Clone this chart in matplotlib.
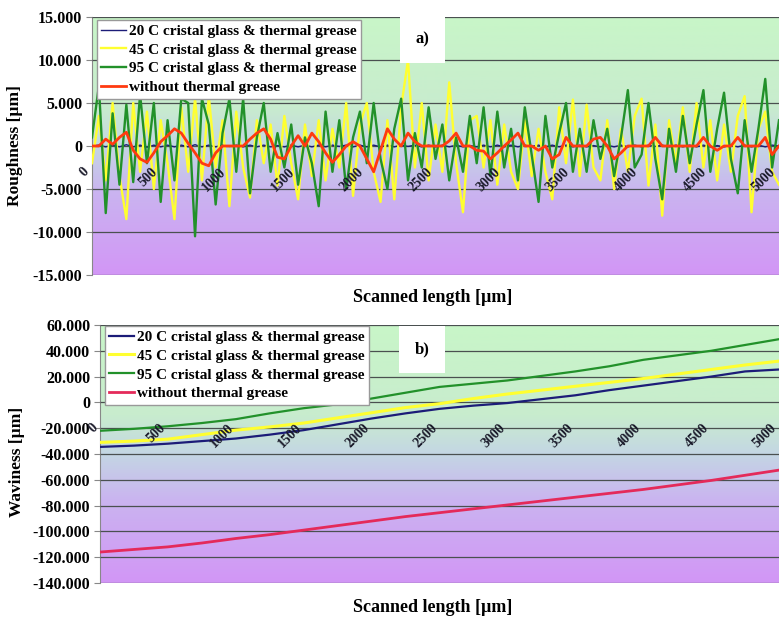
import numpy as np
import matplotlib
matplotlib.use('Agg')
import matplotlib.pyplot as plt

plt.rcParams['font.family'] = ['Liberation Serif', 'DejaVu Serif']
plt.rcParams['font.weight'] = 'bold'

# 데이터 (그림에서 읽은 추정값)
labels = ['20 C cristal glass & thermal grease',
          '45 C cristal glass & thermal grease',
          '95 C cristal glass & thermal grease',
          'without thermal grease']

# a) roughness, 50 um step
x_rough = np.arange(0, 5001, 50)
rough_20 = [0, 100, -100, 100, -100, 150, -100, 100, -150, 100,
            -100, 100, -100, 100, -100, 150, -100, 100, -100, 100,
            -50, 100, -100, 100, -100, 100, -100, 50, -100, 100,
            -100, 100, -100, 100, -100, 100, -50, 100, -100, 100,
            -100, 100, -100, 100, -100, 100, -50, 100, -100, 100,
            -100, 100, -100, 100, -100, 50, -100, 100, -100, 100,
            -100, 100, -100, 100, -50, 100, -100, 100, -100, 100,
            -100, 100, -100, 50, -100, 100, -100, 100, -100, 100,
            -100, 100, -50, 100, -100, 100, -100, 100, -100, 100,
            -100, 50, -100, 100, -100, 100, -100, 100, -100, 100, 0]
rough_45 = [-2000, 3500, -4000, 5000, -3500, -8500, 5000, -3000, 4000, -5000,
            3000, -2000, -8500, 4500, -3000, 5500, -4000, 5800, -2500, 3000,
            -7000, 4000, -2500, -6000, 3000, -2000, 2500, -4600, 3500, -2000,
            -6200, 2500, -3500, 3000, -4000, 2000, -2500, 5000, -5800, 2500,
            5000, -3000, -6500, 3000, -6200, 4500, 10000, -2500, 5000, -4000,
            2500, -3000, 7400, -2000, -7700, 3000, 3500, -2500, 3000, -4500,
            2500, -3000, -5000, 3000, -3500, 2000, -3000, -6200, 4500, -2000,
            5400, -3500, 4800, -2500, -4000, 3000, -5000, 2000, -3000, 3500,
            5500, -4600, 2500, -8100, 3000, -2000, 4500, -3000, 5000, -2500,
            3000, -4000, 2500, -3000, 3500, 5800, -7700, 2000, 4000, -3000, -4500]
rough_95 = [1000, 7000, -7800, 3800, -4500, 4800, -4200, 6000, -2000, 5000,
            -6500, 3000, -4000, 5500, 5000, -10500, 5500, 2500, -6800, 1500,
            5500, -3000, 5500, -5500, 1000, 5000, -3000, 1500, -2500, 2500,
            -4500, 1000, -2000, -7000, 4000, -3000, 3000, -5000, 1000, 4000,
            -2000, 5000, -1500, -5000, 2000, 5500, -4000, 1500, -2500, 4500,
            -1500, 2500, -4000, 1000, -3000, 3500, -2000, 4500, -3500, 4000,
            -2500, 2000, -4000, 4500, -1000, -6500, 3500, -2500, 1500, 5000,
            -3000, 2000, -3000, 3000, -1500, 2000, -3500, 1000, 6500, -2500,
            -1000, 5000, -1500, -6200, 2000, -3000, 3500, -2000, 2500, 6500,
            -3000, 2000, 6200, -1500, -5500, 3000, -3000, 2000, 7800, -2500, 3000]
rough_none = [0, 0, 800, 200, 1000, 1600, -500, -1500, -1900, -800,
              500, 1200, 2000, 1500, 300, -800, -2000, -2300, -800, 0,
              0, 0, 0, 800, 1500, 2000, 800, -1300, -1500, 0,
              1200, 0, 1500, 500, -800, -1900, -1000, 0, 500, 0,
              -1500, -3000, -500, 2000, 800, 0, 1500, 500, 0, 0,
              0, 0, 600, 1500, 0, 0, -500, -600, -1500, -800,
              0, 700, 1500, 0, 0, -500, 0, -1500, -1000, 1000,
              0, 0, 0, 800, 1000, 0, -1500, -800, 0, 0,
              0, 0, 1000, 0, 0, 0, 0, 0, 0, 1000,
              0, -500, 0, 0, 1000, 0, 0, 0, 1000, -1000, 0]

# b) waviness, 250 um step
x_wavy = np.arange(0, 5001, 250)
wavy_20 = [-34500, -33500, -32000, -30000, -28000, -25000, -21500, -17000, -12500, -8500,
           -5000, -2500, -500, 2500, 5500, 9500, 13000, 16500, 20000, 24000, 25500]
wavy_45 = [-31000, -30000, -28500, -25000, -21500, -19000, -16000, -12000, -8000, -4000,
           -1000, 3000, 6500, 9500, 12500, 15500, 18500, 22000, 25500, 29000, 32000]
wavy_95 = [-22000, -20500, -18500, -16000, -13000, -8500, -4500, -1500, 3000, 7500,
           12000, 14500, 17000, 20500, 24000, 28000, 33000, 36500, 40000, 44500, 49000]
wavy_none = [-116000, -114000, -112000, -109000, -105500, -102500, -99000, -95500, -92000, -88500,
             -85500, -82500, -79500, -76500, -73500, -70500, -67500, -64000, -60500, -56500, -52500]

x_ticks = list(range(0, 5001, 500))

colors_a = ['#1c1c78', '#ffff30', '#22912a', '#ff3a10']
colors_b = ['#1c1c78', '#ffff30', '#22912a', '#e42a5a']


def gradient_bg(ax):
    stops = [(0.0, (200, 246, 200)), (0.35, (200, 236, 206)), (0.5, (196, 214, 228)),
             (0.68, (202, 180, 240)), (1.0, (210, 150, 246))]
    t = np.linspace(0, 1, 256)
    pos = [s[0] for s in stops]
    rgb = np.stack([np.interp(t, pos, [s[1][k] for s in stops]) for k in range(3)], axis=1) / 255
    img = rgb[:, None, :]
    ax.imshow(img, extent=[0, 1, 0, 1], transform=ax.transAxes, aspect='auto', zorder=0)


def fmt(v):
    return '0' if v == 0 else f'{v:,.0f}'.replace(',', '.')


def style_axes(ax, yticks, offset):
    gradient_bg(ax)
    ax.set_xlim(0, 5000)
    ax.set_ylim(yticks[0], yticks[-1])
    ax.set_yticks(yticks)
    ax.set_yticklabels([fmt(v) for v in yticks], fontsize=11.5, fontweight='bold')
    ax.set_xticks([])
    ax.yaxis.grid(True, color='#4a5050', linewidth=0.9, zorder=1)
    ax.set_axisbelow(False)
    for s in ['top', 'right', 'bottom']:
        ax.spines[s].set_visible(False)
    ax.spines['left'].set_color('#888888')
    ax.tick_params(axis='y', length=4, color='#888888', pad=3)
    for xt in x_ticks:
        ax.annotate(str(xt), (xt, 0), xytext=offset, textcoords='offset points',
                    rotation=45, rotation_mode='anchor', ha='right', va='center',
                    fontsize=10, fontweight='bold', color='#1a1a2a', zorder=6,
                    annotation_clip=False)


fig = plt.figure(figsize=(7.79, 6.19), dpi=100)
ax1 = fig.add_axes([92 / 779, 1 - 275 / 619, 687 / 779, 258 / 619])
ax2 = fig.add_axes([100 / 779, 1 - 583 / 619, 679 / 779, 258 / 619])

# a) Roughness
style_axes(ax1, list(range(-15000, 15001, 5000)), (-4, -17))
for ys, c, lab, lw in zip([rough_20, rough_45, rough_95, rough_none], colors_a, labels,
                          [1.0, 1.7, 1.7, 2.0]):
    ax1.plot(x_rough, ys, color=c, lw=lw, label=lab, zorder=3)
ax1.set_ylabel('Roughness [µm]', fontsize=12.5, fontweight='bold')
ax1.yaxis.set_label_coords(-0.100, 0.5)
leg = ax1.legend(loc='upper left', bbox_to_anchor=(0.007, 0.99), borderaxespad=0,
                 fontsize=11, handlelength=1.6, labelspacing=0.33, borderpad=0.3,
                 handletextpad=0.2, fancybox=False, framealpha=1, edgecolor='#999999')
leg.set_zorder(7)
ax1.text(0.481, 0.915, 'a)', transform=ax1.transAxes, ha='center', va='center',
         fontsize=12, fontweight='bold', zorder=8,
         bbox=dict(boxstyle='square,pad=0.95', fc='white', ec='none'))

# b) Waviness
style_axes(ax2, list(range(-140000, 60001, 20000)), (-3, -17))
for ys, c, lab, lw in zip([wavy_20, wavy_45, wavy_95, wavy_none], colors_b, labels,
                          [1.6, 2.2, 1.6, 2.0]):
    ax2.plot(x_wavy, ys, color=c, lw=lw, label=lab, zorder=3)
ax2.set_ylabel('Waviness [µm]', fontsize=12.5, fontweight='bold')
ax2.yaxis.set_label_coords(-0.110, 0.47)
leg2 = ax2.legend(loc='upper left', bbox_to_anchor=(0.007, 0.997), borderaxespad=0,
                  fontsize=11, handlelength=1.6, labelspacing=0.33, borderpad=0.3,
                  handletextpad=0.2, fancybox=False, framealpha=1, edgecolor='#999999')
leg2.set_zorder(7)
ax2.text(0.474, 0.905, 'b)', transform=ax2.transAxes, ha='center', va='center',
         fontsize=12, fontweight='bold', zorder=8,
         bbox=dict(boxstyle='square,pad=0.95', fc='white', ec='none'))

fig.text(433 / 779, 1 - 298 / 619, 'Scanned length [µm]', ha='center', va='center',
         fontsize=13, fontweight='bold')
fig.text(433 / 779, 1 - 607 / 619, 'Scanned length [µm]', ha='center', va='center',
         fontsize=13, fontweight='bold')

fig.savefig('out.png', dpi=100)
